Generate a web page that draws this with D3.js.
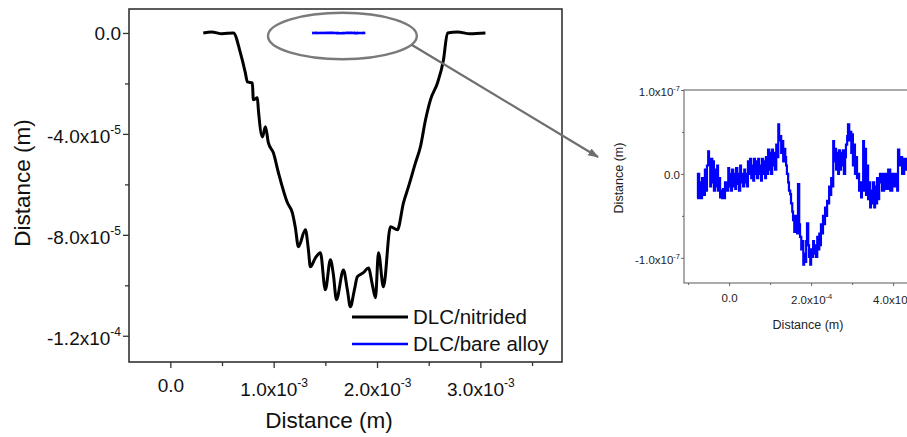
<!DOCTYPE html>
<html>
<head>
<meta charset="utf-8">
<script src="https://cdn.jsdelivr.net/npm/d3@7"></script>
<style>
  body { margin: 0; background: #fff; }
  svg { display: block; font-family: "Liberation Sans", Arial, sans-serif; }
</style>
</head>
<body>
<div id="chart"></div>
<script>

// ---- data ----
// DLC/nitrided wear track profile: x in mm (1e-3 m), depth in um (1e-6 m)
const nitridedX = [0.319,0.40,0.50,0.610,0.678,0.726,0.745,0.794,0.803,0.842,0.852,0.891,0.920,0.949,0.997,1.046,
  1.133,1.181,1.210,1.239,1.307,1.336,1.355,1.404,1.452,1.500,1.549,1.578,1.607,1.675,1.713,1.742,1.781,1.810,1.868,
  1.917,1.955,1.985,2.014,2.062,2.130,2.197,2.256,2.304,2.372,2.420,2.469,2.517,2.585,2.643,2.682,2.78,2.90,3.049];
const nitridedY = [0,0.4,-0.3,0,-7.9,-15.8,-19.4,-19.8,-26.5,-25.7,-30.5,-41.2,-37.2,-43.6,-47.5,-55.4,
  -67.3,-71.3,-77.2,-84.7,-78.0,-85.9,-92.7,-89.1,-87.1,-101.8,-89.9,-95.8,-105.7,-93.9,-101.8,-108.5,-101.8,-96.6,-95.0,
  -93.1,-99.8,-104.9,-87.1,-100.6,-76.8,-78.0,-67.3,-61.0,-51.5,-45.1,-34.5,-26.5,-19.8,-10.7,0,0.4,-0.3,0];

// DLC/bare alloy profile (inset): [x in um, height in nm]
const bareProfile = [[-78,-29],[-76,0],[-73,-29],[-71,-10],[-68,-29],[-66,-5],[-63,-25],[-59,5],[-56,-20],[-54,10],
  [-51,27],[-49,10],[-46,-15],[-44,18],[-41,-10],[-39,15],[-37,-20],[-34,5],[-32,-15],[-29,10],[-27,-20],[-24,-5],
  [-22,-28],[-20,-20],[-17,-29],[-15,-18],[-12,-29],[-10,-10],[-5,-20],[-2,7],[0,-15],[2,0],[5,-20],[7,5],[10,-15],
  [12,0],[15,-18],[17,7],[20,-12],[22,0],[24,-20],[27,10],[29,-10],[32,0],[34,-15],[37,5],[39,-10],[41,0],[44,-15],
  [46,15],[49,0],[51,18],[54,-5],[56,10],[59,-8],[61,18],[63,0],[66,15],[68,-5],[71,18],[73,0],[76,10],[78,-8],
  [80,18],[83,0],[85,15],[88,-5],[90,20],[93,0],[95,29],[98,5],[100,25],[102,0],[105,29],[107,10],[110,25],[112,5],
  [115,35],[117,20],[120,59],[122,40],[124,45],[127,25],[129,39],[132,15],[134,30],[137,20],[139,10],[141,0],
  [144,-10],[146,-20],[149,-24],[151,-35],[154,-45],[156,-55],[159,-69],[161,-50],[163,-65],[166,-71],[168,-12],
  [171,-60],[173,-75],[176,-90],[178,-80],[181,-108],[183,-95],[185,-105],[188,-80],[190,-59],[193,-85],[195,-99],
  [198,-108],[200,-90],[202,-99],[205,-80],[207,-95],[210,-85],[212,-99],[215,-75],[217,-90],[220,-71],[222,-85],
  [224,-60],[227,-71],[229,-50],[232,-60],[234,-40],[237,-50],[239,-32],[241,-35],[244,-15],[246,-25],[249,-5],
  [251,-15],[254,39],[256,15],[259,30],[261,5],[263,25],[266,0],[268,28],[271,5],[273,25],[276,10],[278,28],[280,0],
  [283,20],[285,35],[288,45],[290,59],[293,40],[295,50],[298,25],[300,47],[302,10],[305,35],[307,0],[310,20],
  [312,-5],[315,0],[317,-20],[320,-10],[322,-28],[324,-15],[327,39],[329,-20],[332,30],[334,-25],[337,10],[339,-30],
  [341,-10],[344,-40],[346,-20],[349,-35],[351,-10],[354,-40],[356,-15],[359,-35],[361,-5],[363,-30],[366,-10],
  [368,0],[373,-20],[378,0],[383,-18],[388,5],[393,-20],[398,0],[403,-15],[407,0],[410,-20],[412,29],[415,10],
  [417,20],[422,0],[427,18],[432,5],[437,15]];
// where the bare alloy scan sits on the main x axis (mm)
const bareOffsetMm = 1.45;

const mainXTicks = [0, 1, 2, 3];
const mainXTickLabels = ["0.0", "1.0x10^-3", "2.0x10^-3", "3.0x10^-3"];
const mainXMinor = [0.5, 1.5, 2.5, 3.5];
const mainYTicks = [0, -40, -80, -120];
const mainYTickLabels = ["0.0", "-4.0x10^-5", "-8.0x10^-5", "-1.2x10^-4"];
const mainYMinor = [-20, -60, -100];

const insetXTicks = [0, 200, 400];
const insetXTickLabels = ["0.0", "2.0x10^-4", "4.0x10^-4"];
const insetXMinor = [-100, 100, 300];
const insetYTicks = [100, 0, -100];
const insetYTickLabels = ["1.0x10^-7", "0.0", "-1.0x10^-7"];
const insetYMinor = [50, -50];

const legendNames = ["DLC/nitrided", "DLC/bare alloy"];
const colors = ["#000000", "#0000ff"];

// ---- drawing ----
const width = 907, height = 437;
const svg = d3.select("#chart").append("svg")
    .attr("width", width)
    .attr("height", height);

const main = {left: 129, right: 562, top: 9, bottom: 362};
const ins = {left: 684, right: 930, top: 90, bottom: 283};

const x = d3.scaleLinear().domain([-0.4, 3.79]).range([main.left, main.right]);
const y = d3.scaleLinear().domain([-130.4, 9.5]).range([main.bottom, main.top]);

const ix = d3.scaleLinear().domain([-110, 490]).range([ins.left, ins.right]);
const iy = d3.scaleLinear().domain([-130, 100]).range([ins.bottom, ins.top]);

// label like "2.0x10^-3" -> text with superscript
function sciLabel(textSel, label, supSize, rise) {
    textSel.each(function(d, i) {
        const t = d3.select(this);
        t.text(null);
        const parts = label(d, i).split("^");
        t.append("tspan").text(parts[0]);
        if (parts.length > 1) {
            t.append("tspan")
                .attr("dy", -rise)
                .attr("font-size", supSize)
                .text(parts[1]);
        }
    });
}

function styleAxis(g, color) {
    g.select(".domain").remove();
    g.selectAll(".tick line").attr("stroke", color).attr("stroke-width", 1.3);
}

// main frame
svg.append("rect")
    .attr("x", main.left).attr("y", main.top)
    .attr("width", main.right - main.left).attr("height", main.bottom - main.top)
    .attr("fill", "none").attr("stroke", "#333").attr("stroke-width", 1.6);

// main x axis
const gx = svg.append("g")
    .attr("transform", "translate(0," + main.bottom + ")")
    .call(d3.axisBottom(x).tickValues(mainXTicks).tickSize(6).tickPadding(9));
styleAxis(gx, "#333");
gx.selectAll(".tick text")
    .attr("font-size", 19).attr("fill", "#111")
    .attr("font-family", "Liberation Sans, Arial, sans-serif")
    .attr("dy", (d, i) => mainXTickLabels[i].includes("^") ? "1.02em" : "0.78em")
    .call(sciLabel, (d, i) => mainXTickLabels[i], 12, 9);
const gxm = svg.append("g")
    .attr("transform", "translate(0," + main.bottom + ")")
    .call(d3.axisBottom(x).tickValues(mainXMinor).tickSize(4).tickFormat(""));
styleAxis(gxm, "#333");

// main y axis
const gy = svg.append("g")
    .attr("transform", "translate(" + main.left + ",0)")
    .call(d3.axisLeft(y).tickValues(mainYTicks).tickSize(6).tickPadding(2));
styleAxis(gy, "#333");
gy.selectAll(".tick text")
    .attr("font-size", 19).attr("fill", "#111")
    .attr("font-family", "Liberation Sans, Arial, sans-serif")
    .attr("dy", (d, i) => mainYTickLabels[i].includes("^") ? "0.47em" : "0.32em")
    .call(sciLabel, (d, i) => mainYTickLabels[i], 12, 9);
const gym = svg.append("g")
    .attr("transform", "translate(" + main.left + ",0)")
    .call(d3.axisLeft(y).tickValues(mainYMinor).tickSize(4).tickFormat(""));
styleAxis(gym, "#333");

// axis titles
svg.append("text")
    .attr("x", 329).attr("y", 428)
    .attr("text-anchor", "middle")
    .attr("font-size", 22.5).attr("fill", "#111")
    .text("Distance (m)");
svg.append("text")
    .attr("transform", "translate(30," + 183 + ") rotate(-90)")
    .attr("text-anchor", "middle")
    .attr("font-size", 22.5).attr("fill", "#111")
    .text("Distance (m)");

// main lines
const nitrided = nitridedX.map((v, i) => ({x: v, y: nitridedY[i]}));
const bareMain = bareProfile.map(p => ({x: bareOffsetMm + p[0] / 1000, y: p[1] / 1000}));

const line = d3.line().x(d => x(d.x)).y(d => y(d.y));
const smoothLine = d3.line().x(d => x(d.x)).y(d => y(d.y)).curve(d3.curveMonotoneX);

svg.append("path")
    .datum(nitrided)
    .attr("fill", "none")
    .attr("stroke", colors[0])
    .attr("stroke-width", 3)
    .attr("stroke-linejoin", "round")
    .attr("d", smoothLine);

svg.append("path")
    .datum(bareMain)
    .attr("fill", "none")
    .attr("stroke", colors[1])
    .attr("stroke-width", 2.6)
    .attr("d", line);

// legend
const legend = svg.append("g").attr("transform", "translate(352,317)");
legendNames.forEach((name, i) => {
    legend.append("line")
        .attr("x1", 0).attr("x2", 56)
        .attr("y1", i * 27).attr("y2", i * 27)
        .attr("stroke", colors[i]).attr("stroke-width", i === 0 ? 3 : 2.4);
    legend.append("text")
        .attr("x", 61).attr("y", i * 27 + 7)
        .attr("font-size", 20.5).attr("fill", "#111")
        .text(name);
});

// ellipse around the bare alloy trace and arrow to inset
const ecx = x(1.665), ecy = y(-1.2);
svg.append("ellipse")
    .attr("cx", ecx).attr("cy", ecy)
    .attr("rx", x(1.665 + 0.72) - ecx).attr("ry", y(-1.2 - 9.2) - ecy)
    .attr("fill", "none")
    .attr("stroke", "#7a7a7a")
    .attr("stroke-width", 2.4);

svg.append("defs").append("marker")
    .attr("id", "arrow")
    .attr("viewBox", "0 0 10 10")
    .attr("refX", 9).attr("refY", 5)
    .attr("markerWidth", 5).attr("markerHeight", 5)
    .attr("markerUnits", "strokeWidth")
    .attr("orient", "auto")
    .append("path")
    .attr("d", "M0,1.5 L10,5 L0,8.5 Z")
    .attr("fill", "#6e6e6e");

svg.append("line")
    .attr("x1", 412).attr("y1", 45)
    .attr("x2", 598).attr("y2", 157)
    .attr("stroke", "#6e6e6e")
    .attr("stroke-width", 2.2)
    .attr("marker-end", "url(#arrow)");

// ---- inset ----
svg.append("clipPath").attr("id", "insetClip")
    .append("rect")
    .attr("x", ins.left).attr("y", ins.top - 5)
    .attr("width", ins.right - ins.left).attr("height", ins.bottom - ins.top + 10);

svg.append("rect")
    .attr("x", ins.left).attr("y", ins.top)
    .attr("width", ins.right - ins.left).attr("height", ins.bottom - ins.top)
    .attr("fill", "none").attr("stroke", "#666").attr("stroke-width", 1.1);

const igx = svg.append("g")
    .attr("transform", "translate(0," + ins.bottom + ")")
    .call(d3.axisBottom(ix).tickValues(insetXTicks).tickSize(3).tickPadding(6));
styleAxis(igx, "#666");
igx.selectAll(".tick line").attr("stroke-width", 1);
igx.selectAll(".tick text")
    .attr("font-size", 11.5).attr("fill", "#222")
    .attr("font-family", "Liberation Sans, Arial, sans-serif")
    .attr("dy", (d, i) => insetXTickLabels[i].includes("^") ? "1.05em" : "0.85em")
    .call(sciLabel, (d, i) => insetXTickLabels[i], 7.5, 5);
const igxm = svg.append("g")
    .attr("transform", "translate(0," + ins.bottom + ")")
    .call(d3.axisBottom(ix).tickValues(insetXMinor).tickSize(2).tickFormat(""));
styleAxis(igxm, "#666");
igxm.selectAll(".tick line").attr("stroke-width", 1);

const igy = svg.append("g")
    .attr("transform", "translate(" + ins.left + ",0)")
    .call(d3.axisLeft(iy).tickValues(insetYTicks).tickSize(3).tickPadding(1));
styleAxis(igy, "#666");
igy.selectAll(".tick line").attr("stroke-width", 1);
igy.selectAll(".tick text")
    .attr("font-size", 11.5).attr("fill", "#222")
    .attr("font-family", "Liberation Sans, Arial, sans-serif")
    .attr("dy", (d, i) => insetYTickLabels[i].includes("^") ? "0.5em" : "0.36em")
    .call(sciLabel, (d, i) => insetYTickLabels[i], 7.5, 5);
const igym = svg.append("g")
    .attr("transform", "translate(" + ins.left + ",0)")
    .call(d3.axisLeft(iy).tickValues(insetYMinor).tickSize(2).tickFormat(""));
styleAxis(igym, "#666");
igym.selectAll(".tick line").attr("stroke-width", 1);

svg.append("text")
    .attr("x", 808).attr("y", 329)
    .attr("text-anchor", "middle")
    .attr("font-size", 12.5).attr("fill", "#222")
    .text("Distance (m)");
svg.append("text")
    .attr("transform", "translate(623,178) rotate(-90)")
    .attr("text-anchor", "middle")
    .attr("font-size", 12.5).attr("fill", "#222")
    .text("Distance (m)");

const insetLine = d3.line().x(d => ix(d[0])).y(d => iy(d[1])).curve(d3.curveStepAfter);
svg.append("path")
    .datum(bareProfile)
    .attr("clip-path", "url(#insetClip)")
    .attr("fill", "none")
    .attr("stroke", colors[1])
    .attr("stroke-width", 2.2)
    .attr("d", insetLine);

</script>
</body>
</html>
